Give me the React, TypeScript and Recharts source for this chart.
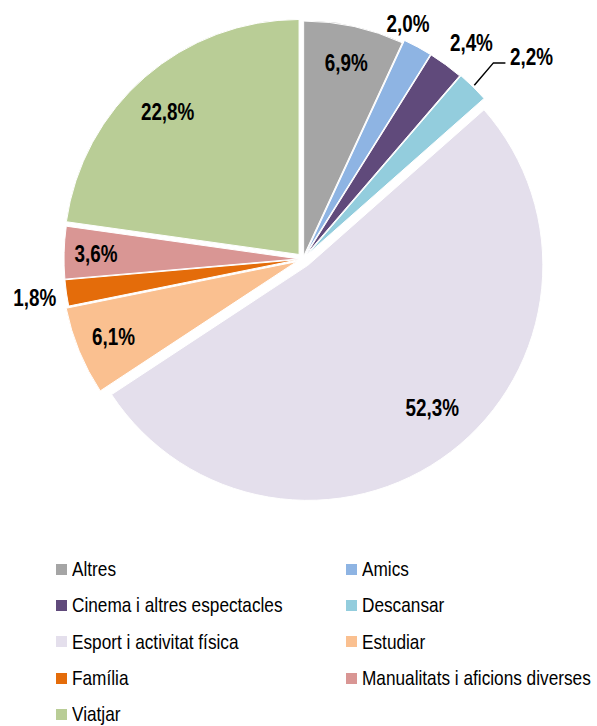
import { Cell, Legend, Pie, PieChart, Sector } from "recharts";

const CATEGORIES = [
  "Altres",
  "Amics",
  "Cinema i altres espectacles",
  "Descansar",
  "Esport i activitat física",
  "Estudiar",
  "Família",
  "Manualitats i aficions diverses",
  "Viatjar",
];
const SHARES = [6.9, 2.0, 2.4, 2.2, 52.3, 6.1, 1.8, 3.6, 22.8];
const COLORS = ["#A5A5A5", "#8EB4E3", "#604A7B", "#93CDDD", "#E4DFEC", "#FAC090", "#E46C0A", "#D99694", "#B9CD96"];

// how far each slice is pulled out of the pie, in px
const EXPLODE = [3, 6, 6, 7, 8, 7, 4, 4, 6];
// label distance from the centre and angle nudge (degrees, clockwise)
const LABEL_SPOT = [
  { r: 201, da: 0 },
  { r: 258, da: -4.4 },
  { r: 274, da: 1.6 },
  { r: 305, da: 3.9, leader: true },
  { r: 197, da: -3.6 },
  { r: 205, da: 0 },
  { r: 271, da: 0 },
  { r: 207, da: 0 },
  { r: 200, da: -1.6 },
];

// no Arial Narrow here: squeeze Liberation Sans instead
const FONT = "'Liberation Sans', Arial, sans-serif";
const NARROW = 0.82;
const RAD = Math.PI / 180;

const rows = CATEGORIES.map((name, i) => ({ name, value: SHARES[i] }));

const fmt = (v: number) => `${v.toFixed(1).replace(".", ",")}%`;

function ExplodedSlice(props: any) {
  const i = CATEGORIES.indexOf(props.payload?.name ?? props.name);
  const d = EXPLODE[i] ?? 0;
  const a = -props.midAngle * RAD;
  return (
    <Sector
      {...props}
      cx={props.cx + d * Math.cos(a)}
      cy={props.cy + d * Math.sin(a)}
      stroke="#FFFFFF"
      strokeWidth={1}
    />
  );
}

function SliceLabel(props: any) {
  const { cx, cy, midAngle, index, value, outerRadius } = props;
  const spot = LABEL_SPOT[index];
  const a = -(midAngle - spot.da) * RAD;
  const x = cx + spot.r * Math.cos(a);
  const y = cy + spot.r * Math.sin(a);
  let leader = null;
  if (spot.leader) {
    const s = -midAngle * RAD;
    const r0 = outerRadius + EXPLODE[index] + 2;
    const sx = cx + r0 * Math.cos(s);
    const sy = cy + r0 * Math.sin(s);
    const left = x - 22;
    leader = (
      <polyline
        points={`${sx},${sy} ${left - 16},${y + 6} ${left - 4},${y + 6}`}
        fill="none"
        stroke="#000000"
        strokeWidth={1.5}
      />
    );
  }
  return (
    <g>
      {leader}
      <text
        transform={`translate(${x},${y}) scale(${NARROW},1)`}
        textAnchor="middle"
        dominantBaseline="central"
        fontFamily={FONT}
        fontWeight="bold"
        fontSize={23}
        fill="#000000"
      >
        {fmt(value)}
      </text>
    </g>
  );
}

function LegendGrid(props: any) {
  const items = props.payload ?? [];
  return (
    <div
      style={{
        display: "grid",
        gridTemplateColumns: "290px 251px",
        gridAutoRows: "36.3px",
        paddingLeft: 56,
        fontFamily: FONT,
        fontSize: 21,
        lineHeight: "24px",
        color: "#000000",
      }}
    >
      {items.map((it: any) => (
        <div key={it.value} style={{ display: "flex", alignItems: "center", whiteSpace: "nowrap" }}>
          <span style={{ width: 11, height: 11, background: it.color, marginRight: 5, flex: "none" }} />
          <span style={{ display: "inline-block", transform: `scaleX(${NARROW})`, transformOrigin: "left center" }}>
            {it.value}
          </span>
        </div>
      ))}
    </div>
  );
}

export default function App() {
  return (
    <div style={{ position: "absolute", left: 0, top: 0, background: "#FFFFFF" }}>
      <PieChart width={597} height={726} margin={{ top: 0, right: 0, bottom: 0, left: 0 }}>
        <Pie
          data={rows}
          dataKey="value"
          nameKey="name"
          cx={303}
          cy={259}
          outerRadius={235}
          startAngle={90}
          endAngle={-270}
          stroke="#FFFFFF"
          strokeWidth={1}
          shape={ExplodedSlice}
          label={SliceLabel}
          labelLine={false}
          isAnimationActive={false}
        >
          {rows.map((r, i) => (
            <Cell key={r.name} fill={COLORS[i]} />
          ))}
        </Pie>
        <Legend
          content={LegendGrid}
          wrapperStyle={{ position: "absolute", left: 0, top: 551, width: 597 }}
        />
      </PieChart>
    </div>
  );
}
